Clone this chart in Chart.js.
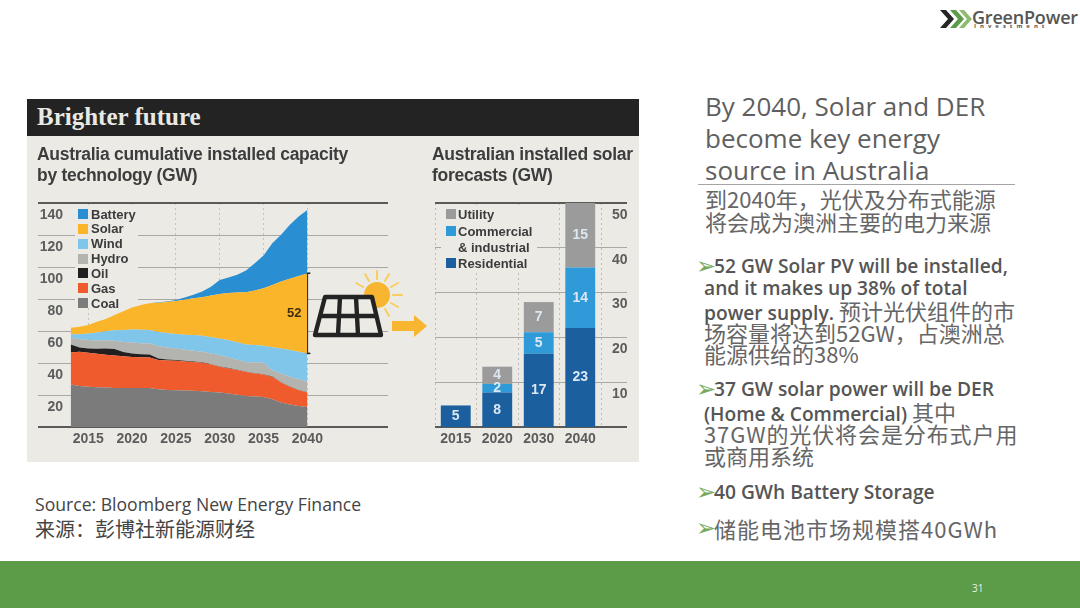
<!DOCTYPE html>
<html>
<head>
<meta charset="utf-8">
<title>Brighter future</title>
<script src="https://cdn.jsdelivr.net/npm/chart.js@4"></script>
<style>
    html, body { margin: 0; padding: 0; background: #fff; }
    #slide { position: relative; width: 1080px; height: 608px; overflow: hidden; font-family: "Open Sans", "Noto Sans CJK SC", sans-serif; color: #595959; }
    #slide div, #slide canvas, #slide svg { position: absolute; }
    .line { white-space: nowrap; }
    #panel { left: 27px; top: 99px; width: 612px; height: 363px; background: #ebeae5; }
    #header { left: 27px; top: 99px; width: 612px; height: 37px; background: #232323; }
    #headerText { left: 37px; top: 99px; font: bold 25px/35px "Liberation Serif", serif; color: #e9e9e4; }
    .sub { font: bold 17.5px/22px "Liberation Sans", sans-serif; color: #3d3d3d; letter-spacing: -0.28px; }
    .legend { background: #ebeae5; }
    .legendText { font: bold 13px/15px "Liberation Sans", sans-serif; color: #3b3b3b; white-space: nowrap; }
    canvas, .legend, .sub { filter: blur(0.4px); }
    .title { font-size: 26px; line-height: 32px; color: #5f5f5f; }
    .cn { font-size: 22px; line-height: 24px; font-family: "Noto Sans CJK SC", sans-serif; color: #666; }
    .bul { font-size: 19.2px; line-height: 22px; font-weight: 600; color: #555; }
    .bul span { font: 400 22px/22px "Noto Sans CJK SC", sans-serif; color: #666; }
    .arrow { font: 24px/22px "DejaVu Sans", sans-serif; color: #76a95a; }
    #band { left: 0; top: 561px; width: 1080px; height: 47px; background: #5c9b48; }
</style>
</head>
<body>
<div id="slide">
    <div id="panel"></div>
    <div id="header"></div>
    <div id="headerText" class="line">Brighter future</div>
    <div class="sub line" style="left:37px;top:143px">Australia cumulative installed capacity</div>
    <div class="sub line" style="left:37px;top:164px">by technology (GW)</div>
    <div class="sub line" style="left:432px;top:143px">Australian installed solar</div>
    <div class="sub line" style="left:432px;top:164px">forecasts (GW)</div>

    <canvas id="areaChart" width="350" height="264" style="left:38px;top:193px"></canvas>
    <canvas id="barChart" width="192" height="264" style="left:435px;top:193px"></canvas>
    <div id="areaLegend"></div>
    <div id="barLegend"></div>

    <!-- solar panel, sun and arrow between the two charts -->
    <svg width="120" height="80" viewBox="0 -10 120 80" style="left:312px;top:267px">
        <g stroke="#f8cf5e" stroke-width="2" stroke-linecap="round">
            <line x1="51" y1="10" x2="44" y2="6" /><line x1="57" y1="4" x2="53" y2="-3" />
            <line x1="65" y1="2" x2="65" y2="-6" /><line x1="73" y1="4" x2="77" y2="-3" />
            <line x1="79" y1="10" x2="86" y2="6" /><line x1="81" y1="18" x2="90" y2="18" />
            <line x1="79" y1="26" x2="86" y2="30" /><line x1="73" y1="32" x2="77" y2="39" />
        </g>
        <circle cx="65" cy="18" r="13" fill="#f8b52f" />
        <path d="M13 20 L60 20 L69 58 L3 58 Z" fill="#ebeae5" stroke="#232323" stroke-width="4.4" stroke-linejoin="round" />
        <path d="M8 39 L65 39 M28 20 L26 58 M44 20 L46 58" fill="none" stroke="#232323" stroke-width="4.4" />
        <path d="M80 44 L102 44 L102 38 L115 49 L102 60 L102 54 L80 54 Z" fill="#f8b52f" />
    </svg>

    <div class="title line" style="left:705px;top:90px">By 2040, Solar and DER</div>
    <div class="title line" style="left:705px;top:122px">become key energy</div>
    <div class="title line" style="left:705px;top:154px">source in Australia</div>
    <div style="left:698px;top:184px;width:317px;height:1px;background:#a5a5a5"></div>
    <div class="cn line" style="left:705px;top:186px">到2040年&#xFF0C;光伏及分布式能源</div>
    <div class="cn line" style="left:705px;top:209px">将会成为澳洲主要的电力来源</div>

    <div class="arrow line" style="left:696px;top:255px">➢</div>
    <div class="bul line" style="left:714px;top:255px">52 GW Solar PV will be installed,</div>
    <div class="bul line" style="left:704px;top:277px">and it makes up 38% of total</div>
    <div class="bul line" style="left:704px;top:299px">power supply. <span>预计光伏组件的市</span></div>
    <div class="bul line" style="left:704px;top:321px"><span>场容量将达到52GW&#xFF0C;占澳洲总</span></div>
    <div class="bul line" style="left:704px;top:342px"><span>能源供给的38%</span></div>

    <div class="arrow line" style="left:696px;top:378px">➢</div>
    <div class="bul line" style="left:714px;top:378px">37 GW solar power will be DER</div>
    <div class="bul line" style="left:704px;top:400px">(Home &amp; Commercial) <span>其中</span></div>
    <div class="bul line" style="left:704px;top:422px"><span style="letter-spacing:0.9px">37GW的光伏将会是分布式户用</span></div>
    <div class="bul line" style="left:704px;top:444px"><span>或商用系统</span></div>

    <div class="arrow line" style="left:696px;top:481px">➢</div>
    <div class="bul line" style="left:714px;top:481px">40 GWh Battery Storage</div>
    <div class="arrow line" style="left:696px;top:517px">➢</div>
    <div class="bul line" style="left:714px;top:517px"><span style="letter-spacing:1px">储能电池市场规模搭40GWh</span></div>

    <div class="line" style="left:35px;top:493px;font-size:17.6px;line-height:22px;color:#444">Source: Bloomberg New Energy Finance</div>
    <div class="line" style="left:35px;top:517px;font:20px/24px 'Noto Sans CJK SC',sans-serif;color:#444">来源&#xFF1A;彭博社新能源财经</div>

    <!-- logo -->
    <svg width="36" height="24" viewBox="0 0 36 24" style="left:938px;top:8px">
        <path d="M2 2 L8 2 L16 11 L8 20 L2 20 L10 11 Z" fill="#262626" />
        <path d="M12 2 L18 2 L26 11 L18 20 L12 20 L20 11 Z" fill="#5c9b48" />
        <path d="M21 2 L26 2 L34 11 L26 20 L21 20 L29 11 Z" fill="#8dbb6f" />
    </svg>
    <div class="line" style="left:972px;top:7px;font-size:18px;line-height:20px;font-weight:600;color:#555;letter-spacing:-0.2px">GreenPower</div>
    <div class="line" style="left:974px;top:22px;font-size:6px;line-height:8px;letter-spacing:4px;font-weight:700;color:#555">Investment</div>

    <div id="band"></div>
    <div class="line" style="left:972px;top:582px;font-size:10px;line-height:12px;color:#e8f0e2">31</div>
</div>

<script>
    // Left chart, GW by technology, one value per year
    const years = [2013, 2014, 2015, 2016, 2017, 2018, 2019, 2020, 2021, 2022, 2023, 2024, 2025, 2026, 2027, 2028, 2029, 2030, 2031, 2032, 2033, 2034, 2035, 2036, 2037, 2038, 2039, 2040];
    const coal = [26.5, 25.7, 25.1, 24.9, 24.7, 24.4, 24.4, 24.4, 24.4, 24.4, 23.6, 23.2, 23.0, 22.8, 22.6, 22.4, 21.9, 21.5, 20.9, 20.1, 19.4, 19.0, 18.8, 17.3, 15.3, 14.0, 13.2, 12.5];
    const gas = [20.1, 21.3, 21.3, 20.9, 20.5, 20.3, 19.8, 19.4, 19.2, 19.0, 18.2, 18.4, 18.4, 18.2, 18.0, 17.8, 17.1, 16.1, 15.7, 15.5, 15.0, 14.4, 14.0, 14.0, 12.5, 11.1, 9.8, 9.0];
    const oil = [5.0, 2.7, 2.7, 3.1, 3.8, 4.0, 2.7, 2.1, 1.9, 1.9, 1.0, 0.6, 0.4, 0.4, 0.4, 0.2, 0.2, 0.2, 0.2, 0.2, 0.2, 0.2, 0.2, 0.2, 0.2, 0.2, 0.2, 0.2];
    const hydro = [4.2, 5.2, 5.2, 5.2, 5.2, 5.2, 6.3, 6.9, 6.9, 6.9, 7.9, 7.5, 7.3, 6.9, 6.7, 6.7, 6.7, 7.1, 6.7, 6.3, 6.1, 6.7, 7.1, 4.0, 5.4, 6.1, 6.7, 6.9];
    const wind = [2.1, 3.1, 4.2, 5.0, 5.6, 6.5, 7.5, 8.1, 8.4, 8.4, 8.6, 9.0, 9.0, 9.4, 9.8, 10.0, 10.2, 10.4, 10.7, 10.9, 10.9, 10.9, 10.7, 14.4, 15.7, 16.7, 17.1, 17.3];
    const solar = [4.2, 4.6, 5.2, 6.7, 7.7, 9.6, 11.7, 13.8, 15.5, 16.7, 18.4, 19.4, 20.7, 21.9, 23.0, 24.0, 26.1, 27.8, 29.5, 31.1, 32.6, 34.1, 35.9, 38.9, 41.8, 44.5, 47.4, 50.1];
    const battery = [0, 0, 0, 0, 0, 0, 0, 0, 0, 0, 0.2, 0.4, 0.6, 1.3, 2.1, 3.6, 5.4, 8.8, 9.8, 11.1, 13.6, 17.1, 20.5, 26.1, 29.3, 33.8, 37.2, 39.7];
    const solarSpan = [46, 96.1]; // the black bracket marked 52 at 2040
    const areaTicks = [2015, 2020, 2025, 2030, 2035, 2040];

    // Right chart, GW installed
    const barYears = ['2015', '2020', '2030', '2040'];
    const residential = [5, 8, 17, 23];
    const commercial = [0, 2, 5, 14];
    const utility = [0, 4, 7, 15];

    const areaSeries = [
        ['Coal', coal, '#7b7b7b'],
        ['Gas', gas, '#ef5b2d'],
        ['Oil', oil, '#231f20'],
        ['Hydro', hydro, '#b3b3b0'],
        ['Wind', wind, '#80c6ea'],
        ['Solar', solar, '#fbb52a'],
        ['Battery', battery, '#2a8fd2']
    ];

    const tickFont = { family: 'Liberation Sans', size: 14, weight: 'bold' };
    const tickColor = '#5c5c5c';
    const isEdge = (ctx, a, b) => ctx.tick && (ctx.tick.value === a || ctx.tick.value === b);

    // Draws the printed numbers on the marks
    const valueLabels = {
        id: 'valueLabels',
        afterDatasetsDraw(chart) {
            const c = chart.ctx;
            c.save();
            c.textAlign = 'center';
            c.textBaseline = 'middle';
            if (chart.canvas.id === 'barChart') {
                c.font = 'bold 14px "Liberation Sans"';
                chart.data.datasets.forEach((ds, i) => {
                    chart.getDatasetMeta(i).data.forEach((bar, j) => {
                        if (!ds.data[j]) return;
                        const y = (bar.y + bar.base) / 2;
                        c.fillStyle = '#dbe8f3';
                        c.fillText(ds.data[j], bar.x, y);
                    });
                });
            } else {
                c.font = 'bold 13px "Liberation Sans"';
                c.fillStyle = '#3f2d0c';
                c.fillText('52', chart.scales.x.getPixelForValue(2038.5), chart.scales.y.getPixelForValue(71));
            }
            c.restore();
        }
    };

    new Chart(document.getElementById('areaChart'), {
        type: 'line',
        data: {
            datasets: areaSeries.map((s, i) => ({
                label: s[0],
                data: s[1].map((v, j) => ({ x: years[j], y: v })),
                backgroundColor: s[2],
                borderWidth: 0,
                pointRadius: 0,
                tension: 0,
                fill: i === 0 ? 'origin' : '-1',
                stack: 'capacity'
            })).concat([{
                label: 'Solar 2040',
                data: solarSpan.map(v => ({ x: 2040, y: v })),
                borderColor: '#231f20',
                borderWidth: 1.5,
                pointStyle: 'line',
                pointRadius: 3,
                pointBorderColor: '#231f20',
                pointBorderWidth: 1.5,
                fill: false,
                stack: 'bracket'
            }])
        },
        options: {
            responsive: false,
            animation: false,
            devicePixelRatio: 1,
            layout: { autoPadding: false, padding: { top: 10, bottom: 0, left: 0, right: 0 } },
            plugins: { legend: { display: false }, tooltip: { enabled: false } },
            scales: {
                x: {
                    type: 'linear',
                    min: 2012.12,
                    max: 2049.2,
                    afterBuildTicks: axis => { axis.ticks = areaTicks.map(v => ({ value: v })); },
                    afterFit: axis => { axis.height = 30; axis.paddingLeft = 0; axis.paddingRight = 0; },
                    border: { display: false, dash: [2, 3] },
                    grid: { color: '#c4c3bc', drawTicks: false },
                    ticks: {
                        autoSkip: false,
                        maxRotation: 0,
                        padding: 4,
                        color: tickColor,
                        font: tickFont,
                        callback: v => String(v)
                    }
                },
                y: {
                    stacked: true,
                    min: 0,
                    max: 140,
                    afterFit: axis => { axis.width = 25; },
                    border: { display: false },
                    grid: {
                        tickLength: 25,
                        color: ctx => isEdge(ctx, 0, 140) ? '#5a5a58' : '#a9a8a3',
                        tickColor: ctx => isEdge(ctx, 0, 140) ? '#5a5a58' : '#a9a8a3',
                        lineWidth: ctx => isEdge(ctx, 0, 140) ? 2 : 1
                    },
                    ticks: {
                        stepSize: 20,
                        padding: -25,
                        labelOffset: 12,
                        color: tickColor,
                        font: tickFont,
                        callback: v => v === 0 ? '' : v
                    }
                }
            }
        },
        plugins: [valueLabels]
    });

    new Chart(document.getElementById('barChart'), {
        type: 'bar',
        data: {
            labels: barYears,
            datasets: [
                { label: 'Residential', data: residential, backgroundColor: '#1c5f9f', yAxisID: 'yBars' },
                { label: 'Commercial & industrial', data: commercial, backgroundColor: '#2f9ad8', yAxisID: 'yBars' },
                { label: 'Utility', data: utility, backgroundColor: '#9b9b9b', yAxisID: 'yBars' }
            ]
        },
        options: {
            responsive: false,
            animation: false,
            devicePixelRatio: 1,
            layout: { padding: { top: 10 } },
            datasets: { bar: { barPercentage: 0.72, categoryPercentage: 1 } },
            plugins: { legend: { display: false }, tooltip: { enabled: false } },
            scales: {
                x: {
                    stacked: true,
                    afterFit: axis => { axis.height = 30; },
                    border: { display: false, dash: [2, 3] },
                    grid: { offset: true, color: '#bdbcb5', drawTicks: false },
                    ticks: { padding: 4, color: tickColor, font: tickFont }
                },
                // The bars run on their own scale: 52 GW fills the full height of the plot
                yBars: { display: false, stacked: true, min: 0, max: 52 },
                yAxis: {
                    position: 'right',
                    min: 0,
                    max: 50,
                    afterFit: axis => { axis.width = 26; },
                    border: { display: false },
                    grid: {
                        tickLength: 26,
                        color: ctx => isEdge(ctx, 0, 50) ? '#5a5a58' : '#a9a8a3',
                        tickColor: ctx => isEdge(ctx, 0, 50) ? '#5a5a58' : '#a9a8a3',
                        lineWidth: ctx => isEdge(ctx, 0, 50) ? 2 : 1
                    },
                    ticks: {
                        stepSize: 10,
                        padding: -15,
                        labelOffset: 12,
                        color: tickColor,
                        font: tickFont,
                        callback: v => v === 0 ? '' : v
                    }
                }
            }
        },
        plugins: [valueLabels]
    });

    // Legends sit on a panel coloured box, so they hide the grid behind them
    function buildLegend(el, box, rows) {
        el.className = 'legend';
        el.style.cssText = 'left:' + box[0] + 'px;top:' + box[1] + 'px;width:' + box[2] + 'px;height:' + box[3] + 'px';
        rows.forEach(r => {
            const text = document.createElement('div');
            text.className = 'legendText';
            text.style.left = (r.textX - box[0]) + 'px';
            text.style.top = (r.y - 7.5 - box[1]) + 'px';
            text.textContent = r.label;
            el.appendChild(text);
            if (!r.color) return;
            const swatch = document.createElement('div');
            swatch.style.cssText = 'left:' + (r.swatchX - box[0]) + 'px;top:' + (r.y - 5 - box[1]) + 'px;width:10px;height:10px;background:' + r.color;
            el.appendChild(swatch);
        });
    }

    buildLegend(document.getElementById('areaLegend'), [75, 206, 63, 100],
        areaSeries.slice().reverse().map((s, i) => ({
            label: s[0], color: s[2], y: 214 + i * 14.85, swatchX: 78, textX: 91
        })));

    buildLegend(document.getElementById('barLegend'), [441, 206, 96, 66], [
        { label: 'Utility', color: '#9b9b9b', y: 214, swatchX: 446, textX: 458 },
        { label: 'Commercial', color: '#2f9ad8', y: 231, swatchX: 446, textX: 458 },
        { label: '& industrial', color: null, y: 247, textX: 458 },
        { label: 'Residential', color: '#1c5f9f', y: 263, swatchX: 446, textX: 458 }
    ]);
</script>
</body>
</html>
